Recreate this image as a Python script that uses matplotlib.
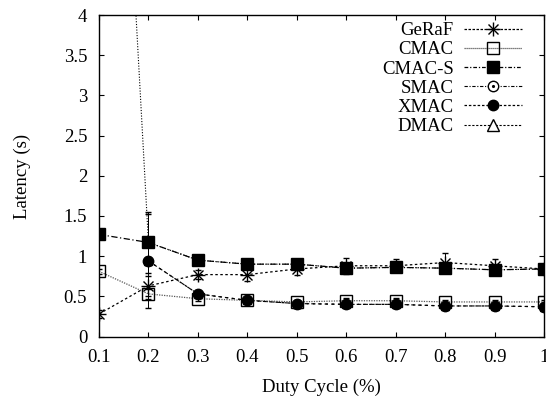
import numpy as np
import matplotlib
matplotlib.use("Agg")
import matplotlib.pyplot as plt
from matplotlib.lines import Line2D

plt.rcParams['font.family'] = ['Liberation Serif', 'DejaVu Serif']

duty = [0.1, 0.2, 0.3, 0.4, 0.5, 0.6, 0.7, 0.8, 0.9, 1.0]

geraf   = [0.28, 0.63, 0.77, 0.77, 0.84, 0.88, 0.88, 0.92, 0.88, 0.84]
cmac    = [0.81, 0.53, 0.47, 0.45, 0.43, 0.445, 0.445, 0.43, 0.43, 0.43]
cmac_s  = [1.27, 1.17, 0.95, 0.90, 0.90, 0.85, 0.86, 0.85, 0.83, 0.84]
smac    = [12.4, 1.17, 0.95, 0.90, 0.90, 0.85, 0.86, 0.85, 0.83, 0.84]
xmac    = [np.nan, 0.94, 0.53, 0.45, 0.41, 0.40, 0.40, 0.38, 0.38, 0.37]
dmac    = [np.nan, 0.94, 0.53, 0.45, 0.41, 0.40, 0.40, 0.38, 0.38, 0.37]

geraf_err  = [0.05, 0.12, 0.06, 0.08, 0.08, 0.10, 0.08, 0.12, 0.09, 0.05]
cmac_err   = [0.03, 0.06, 0.03, 0.02, 0.02, 0.03, 0.03, 0.03, 0.03, 0.03]
cmac_s_err = [0.03, 0.05, 0.03, 0.03, 0.03, 0.03, 0.03, 0.03, 0.03, 0.03]
smac_err   = [0.0, 0.38, 0.03, 0.03, 0.03, 0.03, 0.03, 0.03, 0.03, 0.03]
xmac_err   = [0.0, 0.58, 0.05, 0.03, 0.03, 0.03, 0.03, 0.03, 0.03, 0.03]
dmac_err   = [0.0, 0.05, 0.03, 0.03, 0.03, 0.03, 0.03, 0.03, 0.03, 0.03]

x_ticks = [0.1, 0.2, 0.3, 0.4, 0.5, 0.6, 0.7, 0.8, 0.9, 1.0]
x_labels = ["0.1", "0.2", "0.3", "0.4", "0.5", "0.6", "0.7", "0.8", "0.9", "1"]
y_ticks = [0, 0.5, 1, 1.5, 2, 2.5, 3, 3.5, 4]
y_labels = ["0", "0.5", "1", "1.5", "2", "2.5", "3", "3.5", "4"]

FS = 13.5

fig = plt.figure(figsize=(5.46, 4.01), dpi=100)
ax = fig.add_axes([99/546, 1 - 336.5/401, 445/546, (336.5 - 15)/401])

# (name, values, errors, line style for plot, line style for legend, marker options)
series = [
    ("SMAC",   smac,   smac_err,   (0, (1, 1.5)), (0, (3, 1.5, 1, 1.5)),
     dict(marker='o', mfc='white', ms=8, color='black', lw=0.8)),
    ("DMAC",   dmac,   dmac_err,   (0, (3, 3)), (0, (2, 1.5)),
     dict(marker='^', mfc='white', ms=6, color='black', lw=0.8)),
    ("GeRaF",  geraf,  geraf_err,  (0, (2, 2)), (0, (2, 1.2)),
     dict(marker='x', ms=7, mew=1.0, color='black', lw=0.9)),
    ("CMAC",   cmac,   cmac_err,   (0, (1, 1)), (0, (1, 0.6)),
     dict(marker='s', mfc='none', ms=8.5, mew=1.0, color='#555555', lw=0.9)),
    ("CMAC-S", cmac_s, cmac_s_err, (0, (5, 2, 1, 2)), (0, (3, 1.5, 1, 1.5)),
     dict(marker='s', mfc='black', ms=8.5, color='black', lw=0.9)),
    ("XMAC",   xmac,   xmac_err,   (0, (2, 3)), (0, (2, 1.5)),
     dict(marker='o', mfc='black', ms=7.5, color='black', lw=0.9)),
]

handles = {}
for name, vals, errs, ls, leg_ls, style in series:
    ax.errorbar(duty, vals, yerr=errs, capsize=2, elinewidth=0.7,
                ecolor='black', mec='black', ls=ls, **style)
    hstyle = dict(style)
    if name == "SMAC":
        hstyle['ms'] = 7.5
    if name == "DMAC":
        hstyle['ms'] = 8
    handles[name] = Line2D([], [], ls=leg_ls, mec='black', **hstyle)
# vertical strokes turn the GeRaF crosses into asterisks
ax.plot(duty, geraf, ls='none', marker='+', ms=9.5, mew=1.0, color='black')
handles["GeRaF"] = (handles["GeRaF"],
                    Line2D([], [], ls='none', marker='+', ms=9.5, mew=1.0, color='black'))
# centre dot of the SMAC legend marker
handles["SMAC"] = (handles["SMAC"],
                   Line2D([], [], ls='none', marker='.', ms=2.5, color='black'))

order = ["GeRaF", "CMAC", "CMAC-S", "SMAC", "XMAC", "DMAC"]
leg = fig.legend([handles[n] for n in order], order, loc='upper right',
                 bbox_to_anchor=(522/546, 1 - 22/401), frameon=False, fontsize=FS,
                 markerfirst=False, handlelength=3.1, labelspacing=0.11,
                 handletextpad=0.55, borderaxespad=0, borderpad=0)

ax.set_xlim(0.1, 1.0)
ax.set_ylim(0, 4)
ax.set_xticks(x_ticks)
ax.set_xticklabels(x_labels, fontsize=FS)
ax.set_yticks(y_ticks)
ax.set_yticklabels(y_labels, fontsize=FS)
ax.tick_params(direction='in', top=True, right=True, length=3.6, width=0.8)
ax.tick_params(axis='x', pad=9)
ax.tick_params(axis='y', pad=8.5)
for sp in ax.spines.values():
    sp.set_linewidth(1.0)

fig.text(321.7/546, 1 - 387/401, "Duty Cycle (%)", fontsize=FS,
         ha='center', va='center')
fig.text(22/546, 1 - 176/401, "Latency (s)", fontsize=FS, rotation=90,
         ha='center', va='center')

fig.savefig("out.png", dpi=100)
